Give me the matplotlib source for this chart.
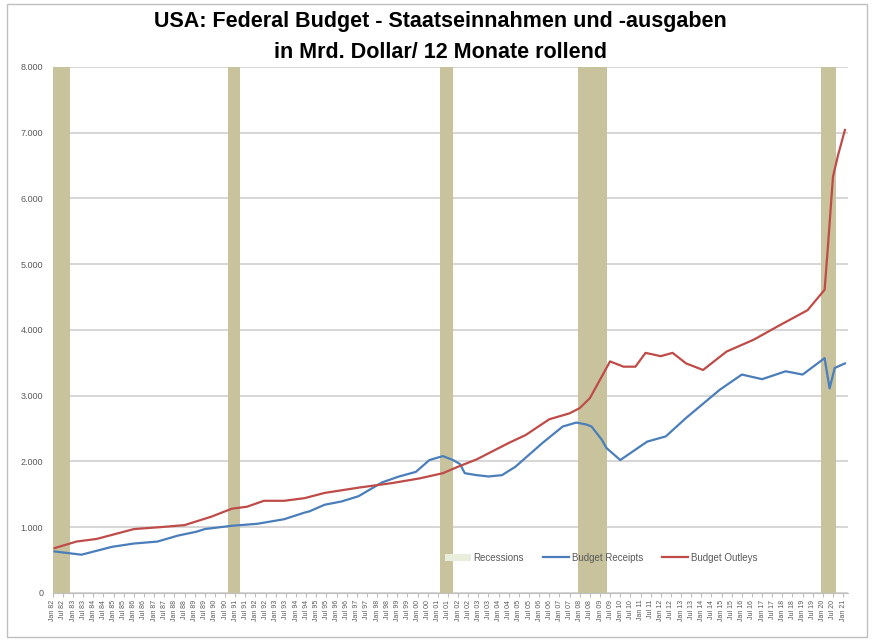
import pandas as pd
import matplotlib
matplotlib.use("Agg")
import matplotlib.pyplot as plt
from matplotlib.patches import Patch, Rectangle
from matplotlib.lines import Line2D

# Werte in Mrd. Dollar (12 Monate rollend)
receipts_dates = [
    "1982-02", "1983-06", "1984-12", "1986-01", "1987-03", "1988-03", "1989-02",
    "1989-07", "1990-11", "1992-02", "1993-06", "1994-06", "1994-09", "1995-06",
    "1996-04", "1997-02", "1998-04", "1999-02", "1999-12", "2000-08", "2001-04",
    "2001-10", "2002-02", "2002-05", "2002-12", "2003-07", "2004-03", "2004-11",
    "2005-07", "2006-03", "2007-03", "2007-11", "2008-05", "2008-08", "2009-02",
    "2009-05", "2010-01", "2011-05", "2012-04", "2013-04", "2014-12", "2016-01",
    "2017-01", "2018-03", "2019-01", "2020-02", "2020-05", "2020-08", "2021-02",
]
receipts = [
    630, 580, 700, 750, 780, 870, 930,
    970, 1020, 1050, 1120, 1220, 1240, 1340,
    1390, 1470, 1680, 1770, 1840, 2020, 2080,
    2020, 1960, 1820, 1790, 1770, 1790, 1920,
    2100, 2280, 2530, 2590, 2560, 2530, 2330,
    2200, 2020, 2300, 2380, 2660, 3090, 3320,
    3250, 3370, 3320, 3570, 3110, 3420, 3490,
]

outlays_dates = [
    "1982-02", "1983-03", "1984-03", "1986-01", "1987-05", "1988-07", "1989-11",
    "1990-11", "1991-08", "1992-06", "1993-06", "1994-06", "1994-09", "1995-06",
    "1997-02", "1998-10", "2000-02", "2001-04", "2002-02", "2002-12", "2004-07",
    "2005-05", "2006-07", "2007-07", "2008-01", "2008-07", "2009-07", "2010-03",
    "2010-10", "2011-04", "2012-01", "2012-08", "2013-04", "2014-02", "2015-04",
    "2016-08", "2017-10", "2019-04", "2020-02", "2020-04", "2020-07", "2020-10",
    "2021-02",
]
outlays = [
    680, 780, 820, 970, 1000, 1030, 1160,
    1280, 1310, 1400, 1400, 1440, 1460, 1520,
    1600, 1670, 1740, 1820, 1930, 2030, 2280,
    2400, 2640, 2730, 2810, 2960, 3520, 3440,
    3440, 3650, 3600, 3650, 3490, 3390, 3670,
    3850, 4050, 4300, 4610, 5270, 6330, 6660,
    7040,
]

recession_start = ["1982-01", "1990-09", "2001-02", "2007-12", "2019-12"]
recession_end = ["1982-11", "1991-04", "2001-10", "2009-05", "2020-09"]

y_ticks = [0, 1000, 2000, 3000, 4000, 5000, 6000, 7000, 8000]

BLUE = "#4a7ebb"
RED = "#be4b48"
TAN = "#c9c39d"
GRID = "#d0d0d0"
TEXT = "#595959"

plt.rcParams["font.family"] = ["Liberation Sans", "DejaVu Sans"]

fig = plt.figure(figsize=(8.81, 6.43), dpi=100)
ax = fig.add_axes([0.060, 0.078, 0.902, 0.818])

# Rahmen um das ganze Diagramm
fig.patches.append(Rectangle((0.008, 0.009), 0.976, 0.985, transform=fig.transFigure,
                             fill=False, edgecolor="#bfbfbf", linewidth=1.0))

for start, end in zip(recession_start, recession_end):
    ax.axvspan(pd.Timestamp(start), pd.Timestamp(end), ymin=0, ymax=1,
               color=TAN, linewidth=0, zorder=1)

ax.plot(pd.to_datetime(receipts_dates), receipts, color=BLUE, linewidth=1.6, zorder=3)
ax.plot(pd.to_datetime(outlays_dates), outlays, color=RED, linewidth=1.6, zorder=3)

ax.set_ylim(0, 8000)
ax.set_yticks(y_ticks)
ax.set_yticklabels([f"{v:,}".replace(",", ".") for v in y_ticks], fontsize=6.5, color=TEXT)
ax.yaxis.grid(True, color=GRID, linewidth=1.2, zorder=0)
ax.set_axisbelow(True)
ax.tick_params(axis="y", length=0, pad=7)

x_ticks = pd.date_range("1982-01-01", "2021-01-01", freq="6MS")
x_labels = [("Jan " if d.month == 1 else "Jul ") + d.strftime("%y") for d in x_ticks]
ax.set_xticks(x_ticks)
ax.set_xticklabels(x_labels, rotation=90, fontsize=5, color=TEXT)
ax.tick_params(axis="x", length=3, color="#bfbfbf", pad=2)
ax.set_xlim(pd.Timestamp("1982-01-01"), pd.Timestamp("2021-03-20"))

for side in ["top", "right", "left"]:
    ax.spines[side].set_visible(False)
ax.spines["bottom"].set_color("#bfbfbf")

handles = [
    Patch(facecolor="#e9eddc", edgecolor="none"),
    Line2D([0], [0], color=BLUE, linewidth=1.6),
    Line2D([0], [0], color=RED, linewidth=1.6),
]
ax.legend(handles, ["Recessions", "Budget Receipts", "Budget Outleys"], ncol=3,
          loc="center", bbox_to_anchor=(0.69, 0.067), frameon=False, fontsize=7,
          labelcolor=TEXT, handlelength=2.6, columnspacing=2.0, handletextpad=0.3)

fig.text(0.5, 0.966, "USA: Federal Budget - Staatseinnahmen und -ausgaben",
         ha="center", va="center", fontsize=15.5, fontweight="bold")
fig.text(0.5, 0.918, "in Mrd. Dollar/ 12 Monate rollend",
         ha="center", va="center", fontsize=15.5, fontweight="bold")

fig.savefig("out.png", dpi=100)
